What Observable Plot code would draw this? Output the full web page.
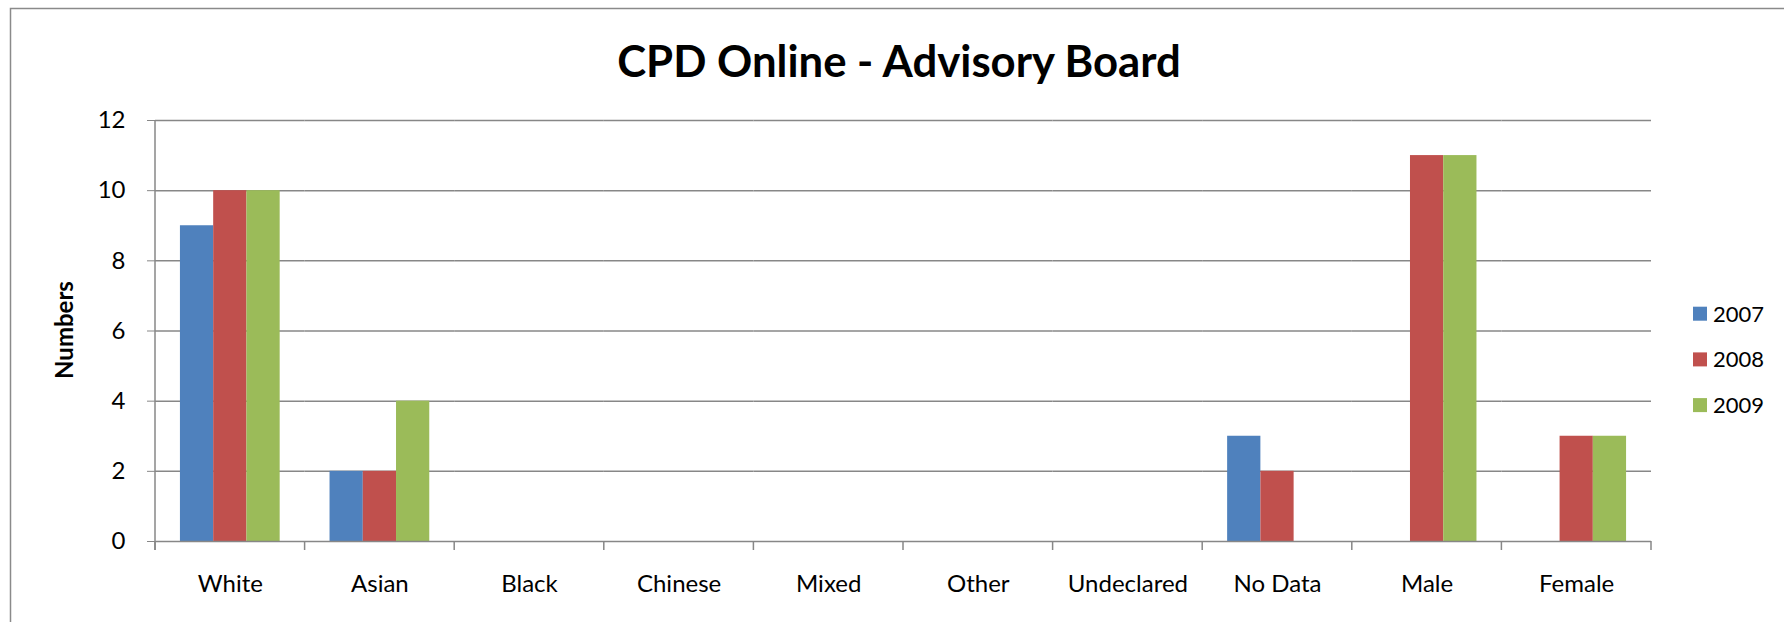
<!DOCTYPE html>
<html><head><meta charset="utf-8">
<script src="https://cdn.jsdelivr.net/npm/d3@7"></script>
<script src="https://cdn.jsdelivr.net/npm/@observablehq/plot@0.6"></script>
<style>
html,body{margin:0;padding:0;background:#fff;}
#chart{position:relative;width:1784px;height:622px;overflow:hidden;}
#chart svg{display:block;}
#chart svg text{fill:#000;}
</style></head><body><div id="chart"></div>
<script>
const categories = ["White","Asian","Black","Chinese","Mixed","Other","Undeclared","No Data","Male","Female"];
const years = ["2007","2008","2009"];
const values2007 = [9, 2, 0, 0, 0, 0, 0, 3, 0, 0];
const values2008 = [10, 2, 0, 0, 0, 0, 0, 2, 11, 3];
const values2009 = [10, 4, 0, 0, 0, 0, 0, 0, 11, 3];
const yTicks = [0, 2, 4, 6, 8, 10, 12];
const colors = ["#4F81BD", "#C0504D", "#9BBB59"];
const title = "CPD Online - Advisory Board";
const yLabel = "Numbers";

const series = [values2007, values2008, values2009];
const rows = categories.flatMap((c, i) => years.map((yr, j) => ({category: c, year: yr, value: series[j][i]})));

const gray = "#878787";
const plot = Plot.plot({
  width: 1784, height: 622,
  marginLeft: 155, marginRight: 133, marginTop: 120, marginBottom: 81,
  style: {fontFamily: "Lato, sans-serif", fontSize: "24px", color: gray, background: "#fff"},
  facet: {data: rows, x: "category"},
  fx: {domain: categories, padding: 0, round: false, axis: "bottom", label: null, tickSize: 0, tickPadding: 33},
  x: {domain: years, paddingInner: 0, paddingOuter: 0.75, round: false, axis: null},
  y: {domain: [0, 12], ticks: yTicks, tickSize: 8, tickPadding: 22, label: null},
  color: {domain: years, range: colors},
  marks: [
    Plot.ruleY(yTicks.filter(t => t > 0), {stroke: gray, strokeWidth: 1.5}),
    Plot.barY(rows, {x: "year", y: "value", fill: "year"}),
    Plot.ruleY([0], {stroke: gray, strokeWidth: 1.5})
  ]
});
document.getElementById("chart").appendChild(plot);

const svg = d3.select(plot.tagName.toLowerCase() === "svg" ? plot : plot.querySelector("svg"));
const fx = plot.scale("fx"), y = plot.scale("y");
const y0 = y.apply(0), yTop = y.apply(12);
const bw = fx.bandwidth;
const bounds = categories.map(c => fx.apply(c)).concat([fx.apply(categories[categories.length - 1]) + bw]);
const g = svg.append("g").attr("stroke", gray).attr("stroke-width", 1.5);
g.selectAll("line.bt").data(bounds).join("line").attr("class", "bt")
  .attr("x1", d => d).attr("x2", d => d).attr("y1", y0).attr("y2", y0 + 9);
g.append("line").attr("x1", bounds[0]).attr("x2", bounds[0]).attr("y1", yTop).attr("y2", y0 + 9);

// chart area border (left and top edges visible)
svg.append("path").attr("d", "M10.5,622V8.5H1784").attr("fill", "none").attr("stroke", "#8a8a8a").attr("stroke-width", 1.5);

// title
svg.append("text").attr("x", 899).attr("y", 77).attr("text-anchor", "middle")
  .style("font", "bold 43.7px Lato, sans-serif").text(title);

// y label
svg.append("text").attr("transform", "translate(73,330) rotate(-90)").attr("text-anchor", "middle")
  .style("font", "bold 24px Lato, sans-serif").text(yLabel);

// legend
const lg = svg.append("g").attr("text-anchor", "start");
years.forEach((yr, i) => {
  const cy = 313.7 + i * 45.7;
  lg.append("rect").attr("x", 1693).attr("y", cy - 7).attr("width", 14).attr("height", 14).attr("fill", colors[i]);
  lg.append("text").attr("x", 1713).attr("y", cy).attr("dy", "0.36em").attr("text-anchor", "start")
    .style("font", "22px Lato, sans-serif").text(yr);
});
</script></body></html>
